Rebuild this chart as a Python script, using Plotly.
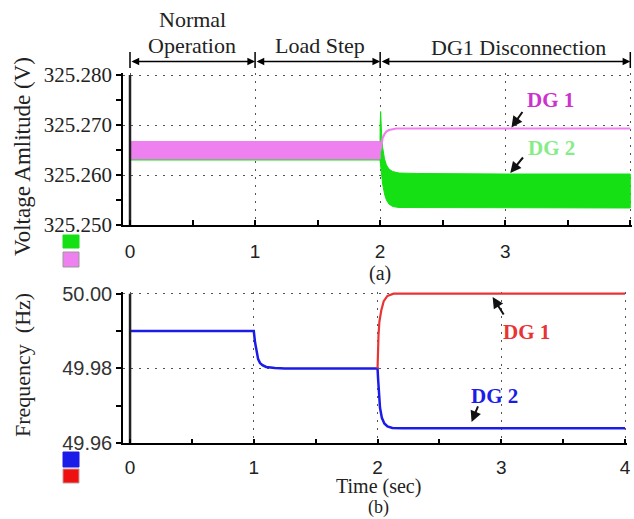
import plotly.graph_objects as go

W, H = 634, 519

# ---------------- (a) voltage amplitude envelopes ----------------
# DG1 before the disconnection: oscillation band (lower / upper envelope)
t_dg1_band = [0.0, 2.0]
dg1_band_lo = [325.2632, 325.2632]
dg1_band_hi = [325.2667, 325.2667]
# DG1 after the disconnection: single settled trace
t_dg1_after = [2.0, 2.005, 2.01, 2.02, 2.035, 2.05, 2.07, 2.1, 2.13, 2.2, 3.0, 4.0]
v_dg1_after = [325.2648, 325.2656, 325.2664, 325.2674, 325.2682, 325.2687,
               325.2690, 325.2692, 325.2693, 325.2693, 325.2693, 325.2693]

# DG2 oscillation band (lower / upper envelope)
t_dg2 = [0.0, 1.6, 1.999, 2.0, 2.004, 2.01, 2.02, 2.035, 2.05, 2.07, 2.1,
         2.15, 2.3, 3.0, 4.0]
dg2_hi = [325.2662, 325.2662, 325.2662, 325.2700, 325.2727, 325.2690,
          325.2655, 325.2632, 325.2620, 325.2612, 325.2607, 325.2604,
          325.2603, 325.2602, 325.2602]
dg2_lo = [325.2630, 325.2630, 325.2630, 325.2630, 325.2625, 325.2605,
          325.2582, 325.2562, 325.2550, 325.2542, 325.2537, 325.2535,
          325.2534, 325.2534, 325.2534]

# ---------------- (b) frequency ----------------
t_f2 = [0.0, 1.0, 1.01, 1.02, 1.035, 1.05, 1.07, 1.1, 1.17, 1.25, 2.0,
        2.005, 2.01, 2.02, 2.035, 2.055, 2.08, 2.12, 2.2, 4.0]
f_dg2 = [49.990, 49.990, 49.987, 49.9848, 49.9825, 49.9815, 49.9809, 49.9804,
         49.9801, 49.980, 49.980, 49.977, 49.9735, 49.9695, 49.9668, 49.9653,
         49.9645, 49.9641, 49.964, 49.964]
t_f1 = [2.0, 2.003, 2.008, 2.015, 2.03, 2.05, 2.08, 2.13, 4.0]
f_dg1 = [49.980, 49.985, 49.989, 49.9925, 49.9955, 49.998, 49.9994, 50.0, 50.0]

# start-up edge of the recorded signals at t = 0
t_start = [0.0, 0.0]

# event segments shown above the plots
events = ["Normal<br>Operation", "Load Step", "DG1 Disconnection"]
event_bounds = [0.0, 1.0, 2.0, 4.0]

V_RANGE = [325.250, 325.2804]
F_RANGE = [49.96, 50.0005]
X_RANGE_A = [-0.056, 4.016]
X_RANGE_B = [-0.057, 4.016]

C_PINK = "#EF80EF"
C_GREEN = "#14E014"
C_BLUE = "#1C1CE8"
C_RED = "#E83434"

SERIF = "Liberation Serif"
SANS = "Liberation Sans"

fig = go.Figure()

# (a) DG2 band (drawn first, DG1 on top)
fig.add_trace(go.Scatter(
    x=t_dg2 + t_dg2[::-1], y=dg2_hi + dg2_lo[::-1],
    fill="toself", fillcolor=C_GREEN, line=dict(color=C_GREEN, width=1),
    mode="lines", xaxis="x", yaxis="y", hoverinfo="skip"))
fig.add_trace(go.Scatter(
    x=t_dg1_band + t_dg1_band[::-1], y=dg1_band_hi + dg1_band_lo[::-1],
    fill="toself", fillcolor=C_PINK, line=dict(color=C_PINK, width=1),
    mode="lines", xaxis="x", yaxis="y", hoverinfo="skip"))
fig.add_trace(go.Scatter(
    x=t_dg1_after, y=v_dg1_after, mode="lines",
    line=dict(color=C_PINK, width=2.2), xaxis="x", yaxis="y"))
fig.add_trace(go.Scatter(
    x=t_start, y=[325.250, 325.280], mode="lines",
    line=dict(color="#222222", width=2.5), xaxis="x", yaxis="y"))

# (b) frequencies
fig.add_trace(go.Scatter(
    x=t_f2, y=f_dg2, mode="lines", line=dict(color=C_BLUE, width=2.5),
    xaxis="x2", yaxis="y2"))
fig.add_trace(go.Scatter(
    x=t_f1, y=f_dg1, mode="lines", line=dict(color=C_RED, width=2.2),
    xaxis="x2", yaxis="y2"))
fig.add_trace(go.Scatter(
    x=t_start, y=[49.96, 50.0], mode="lines",
    line=dict(color="#222222", width=2.5), xaxis="x2", yaxis="y2"))


def py(p):
    """pixel row -> paper y"""
    return 1 - p / H


def px(p):
    """pixel column -> paper x"""
    return p / W


grid = dict(showgrid=True, gridcolor="#555555", gridwidth=1.4, griddash="2px,6px")
xcommon = dict(showline=True, linecolor="black", linewidth=1.5,
               ticks="inside", ticklen=5, tickwidth=1.5, tickcolor="black",
               tickvals=[0, 1, 2, 3, 4], zeroline=False,
               ticklabeloverflow="allow",
               minor=dict(tickvals=[0.5, 1.5, 2.5, 3.5], ticks="inside",
                          ticklen=5, tickwidth=1.5, tickcolor="black",
                          showgrid=False),
               tickfont=dict(family=SANS, size=19, color="#222222"),
               **grid)
ycommon = dict(showline=True, linecolor="black", linewidth=1.5,
               ticks="outside", ticklen=5, tickwidth=1.5, tickcolor="black",
               zeroline=False, **grid)

fig.update_layout(
    width=W, height=H, margin=dict(l=0, r=0, t=0, b=0, autoexpand=False),
    paper_bgcolor="white", plot_bgcolor="white", showlegend=False,
    xaxis=dict(domain=[px(123), px(632.3)], anchor="y", range=X_RANGE_A,
               ticktext=["0", "1", "2", "3", ""], ticklabelstandoff=8,
               **xcommon),
    yaxis=dict(domain=[py(225), py(73)], anchor="x", range=V_RANGE,
               tickvals=[325.25, 325.26, 325.27, 325.28], tickformat=".3f",
               minor=dict(tickvals=[325.255, 325.265, 325.275], ticks="outside",
                          ticklen=5, tickwidth=1.5, tickcolor="black",
                          showgrid=False),
               tickfont=dict(family=SERIF, size=21, color="#222222"),
               **ycommon),
    xaxis2=dict(domain=[px(123), px(627)], anchor="y2", range=X_RANGE_B,
                ticktext=["0", "1", "2", "3", "4"], ticklabelstandoff=6,
                **xcommon),
    yaxis2=dict(domain=[py(443.3), py(291.8)], anchor="x2", range=F_RANGE,
                tickvals=[49.96, 49.98, 50.0], tickformat=".2f",
                minor=dict(tickvals=[49.97, 49.99], ticks="outside",
                           ticklen=5, tickwidth=1.5, tickcolor="black",
                           showgrid=False),
                tickfont=dict(family=SANS, size=20, color="#333333"),
                **ycommon),
)

ann = []


def text(x, y, s, size=22, color="#222222", family=SERIF, bold=False, angle=0):
    if bold:
        s = "<b>" + s + "</b>"
    ann.append(dict(x=px(x), y=py(y), xref="paper", yref="paper", text=s,
                    showarrow=False, textangle=angle,
                    font=dict(family=family, size=size, color=color),
                    xanchor="center", yanchor="middle"))


# event headers
normal, operation = events[0].split("<br>")
text(192, 19, normal)
text(192, 45, operation)
text(320, 45, events[1])
text(518, 47, events[2])

# event span arrows
y_ev = py(61.5)
for a, b in zip(event_bounds[:-1], event_bounds[1:]):
    ann.append(dict(x=b, y=y_ev, xref="x", yref="paper", ax=a, ay=0,
                    axref="x", ayref="pixel", text="", showarrow=True,
                    arrowside="end+start", arrowhead=2, arrowsize=1.1,
                    arrowwidth=1.4, arrowcolor="black"))
shapes = []
for b in event_bounds:
    shapes.append(dict(type="line", xref="x", yref="paper", x0=b, x1=b,
                       y0=py(68), y1=py(52), line=dict(color="black", width=1.5)))

# axis titles and captions
text(22, 157, "Voltage Amlitude (V)", size=23, angle=-90)
text(22, 365, "Frequency  (Hz)", size=22, angle=-90)
text(380, 273, "(a)", size=20)
text(378, 486, "Time (sec)", size=20)
text(378, 507, "(b)", size=18)

# curve labels
text(550, 100, "DG 1", size=21, color="#CC33CC", bold=True)
text(551, 148, "DG 2", size=21, color="#86EC86", bold=True)
text(526, 332, "DG 1", size=21, color=C_RED, bold=True)
text(494, 396, "DG 2", size=21, color=C_BLUE, bold=True)


def arrow(x, y, xr, yr, dx, dy):
    ann.append(dict(x=x, y=y, xref=xr, yref=yr, ax=dx, ay=dy, text="",
                    showarrow=True, arrowhead=2, arrowsize=1.1, arrowwidth=2,
                    arrowcolor="#111111"))


arrow(3.05, 325.2695, "x", "y", 12, -17)
arrow(3.04, 325.2604, "x", "y", 14, -17)
arrow(2.93, 49.9991, "x2", "y2", 12, 19)
arrow(2.76, 49.9657, "x2", "y2", 7, -17)

# legend swatches
for y0, y1, c, border in [(235, 248, C_GREEN, C_GREEN), (252, 267, C_PINK, "#999999"),
                          (452, 467, C_BLUE, C_BLUE), (469, 483, "#EE1111", "#CC9999")]:
    shapes.append(dict(type="rect", xref="paper", yref="paper",
                       x0=px(63), x1=px(79), y0=py(y1), y1=py(y0),
                       fillcolor=c, line=dict(color=border, width=1)))

fig.update_layout(annotations=ann, shapes=shapes)
fig.write_html("out.html")
